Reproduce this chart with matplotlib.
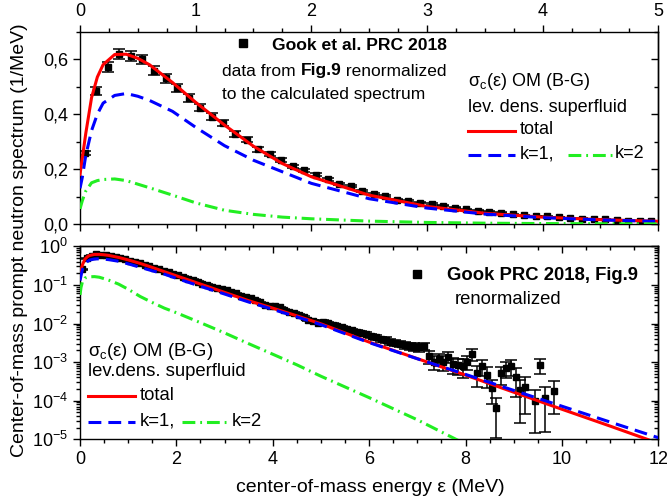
import matplotlib
matplotlib.use("Agg")
import matplotlib.pyplot as plt
import numpy as np
from matplotlib.ticker import MultipleLocator, FixedLocator, LogLocator, NullFormatter
from matplotlib.lines import Line2D

plt.rcParams['font.family'] = ['Liberation Sans', 'DejaVu Sans']
plt.rcParams['mathtext.fontset'] = 'custom'
plt.rcParams['mathtext.rm'] = 'Liberation Sans'
plt.rcParams['mathtext.it'] = 'Liberation Sans:italic'
plt.rcParams['mathtext.bf'] = 'Liberation Sans:bold'
plt.rcParams['axes.unicode_minus'] = False

# calculated spectra (1/MeV)
E_calc = [0, 0.02, 0.05, 0.1, 0.15, 0.2, 0.3, 0.4, 0.5, 0.6, 0.8, 1.0, 1.25, 1.5,
          1.75, 2.0, 2.5, 3.0, 3.5, 4.0, 4.5, 5.0, 6, 7, 8, 9, 10, 11, 12]
total = [0.18, 0.24, 0.33, 0.46, 0.535, 0.58, 0.617, 0.618, 0.603, 0.58, 0.515,
         0.443, 0.36, 0.283, 0.22, 0.172, 0.105, 0.064, 0.039, 0.025, 0.0158,
         0.0098, 0.0033, 0.00123, 4.6e-4, 1.66e-4, 6.0e-5, 2.2e-5, 7.9e-6]
k1 = [0.13, 0.17, 0.25, 0.34, 0.40, 0.44, 0.468, 0.475, 0.465, 0.45, 0.41,
      0.352, 0.285, 0.232, 0.19, 0.148, 0.092, 0.058, 0.036, 0.0232, 0.0148,
      0.0093, 0.0032, 0.00122, 4.8e-4, 1.85e-4, 7.2e-5, 2.8e-5, 1.1e-5]
k2 = [0.055, 0.085, 0.12, 0.150, 0.158, 0.162, 0.164, 0.158, 0.145, 0.132, 0.105,
      0.077, 0.050, 0.035, 0.025, 0.019, 0.0105, 0.0057, 0.0030, 0.0016, 8.5e-4,
      4.3e-4, 1.2e-4, 3.2e-5, 7.5e-6, np.nan, np.nan, np.nan, np.nan]

# Gook et al. PRC 2018, Fig.9 (renormalized)
E_gook = [0.04, 0.14, 0.24, 0.34, 0.44, 0.54, 0.64, 0.74, 0.84, 0.94,
          1.04, 1.14, 1.24, 1.34, 1.44, 1.54, 1.64, 1.74, 1.84, 1.94,
          2.04, 2.14, 2.24, 2.34, 2.44, 2.54, 2.64, 2.74, 2.84, 2.94,
          3.04, 3.14, 3.24, 3.34, 3.44, 3.54, 3.64, 3.74, 3.84, 3.94,
          4.04, 4.14, 4.24, 4.34, 4.44, 4.54, 4.64, 4.74, 4.84, 4.94,
          5.04, 5.14, 5.24, 5.34, 5.44, 5.54, 5.64, 5.74, 5.84, 5.94,
          6.04, 6.14, 6.24, 6.34, 6.44, 6.54, 6.64, 6.74, 6.84, 6.94,
          7.04, 7.14, 7.24, 7.34, 7.44, 7.54, 7.64, 7.74, 7.84, 7.94,
          8.04, 8.14, 8.24, 8.34, 8.44, 8.54, 8.64, 8.74, 8.84, 8.94,
          9.04, 9.14, 9.24, 9.34, 9.44, 9.54, 9.64, 9.74, 9.84]
S_gook = [0.258, 0.483, 0.572, 0.620, 0.612, 0.599, 0.558, 0.531, 0.495, 0.459,
          0.423, 0.391, 0.368, 0.328, 0.307, 0.272, 0.256, 0.232, 0.210, 0.196,
          0.180, 0.163, 0.145, 0.137, 0.121, 0.108, 0.101, 0.089, 0.084, 0.077,
          0.073, 0.066, 0.060, 0.053, 0.049, 0.045, 0.041, 0.035, 0.031, 0.029,
          0.028, 0.026, 0.022, 0.020, 0.019, 0.017, 0.0145, 0.0125, 0.0115, 0.0105,
          0.0112, 0.0102, 0.0093, 0.0085, 0.0079, 0.0071, 0.0066, 0.0060, 0.0056, 0.0054,
          0.0048, 0.0044, 0.0040, 0.0038, 0.0034, 0.0032, 0.0030, 0.0028, 0.0026, 0.0025,
          0.0024, 0.0026, 0.0014, 0.00102, 0.0012, 0.0010, 0.00138, 0.00089, 0.00085, 0.00079,
          0.00102, 0.00166, 0.00051, 0.00079, 0.00047, 0.00021, 6.3e-5, 0.00051, 0.00069, 0.00079,
          0.00042, 0.00019, 0.00023, np.nan, 1.0e-4, 0.00085, 0.00012, np.nan, 0.00018]
dS_rel = [0.03] * 40 + [0.05] * 10 + \
         [0.08, 0.08, 0.09, 0.09, 0.10, 0.10, 0.11, 0.11, 0.12, 0.12,
          0.13, 0.14, 0.15, 0.16, 0.17, 0.18, 0.19, 0.20, 0.21, 0.22,
          0.22, 0.20, 0.35, 0.40, 0.35, 0.40, 0.30, 0.45, 0.45, 0.50,
          0.40, 0.35, 0.55, 0.45, 0.55, 0.60, 0.83, 0.50, 0.45, 0.45,
          0.70, 0.86, 0.80, 0.0, 0.85, 0.43, 0.87, 0.0, 0.75]

E_gook = np.array(E_gook)
S_gook = np.array(S_gook)
dS = S_gook * np.array(dS_rel)

W, H = 667, 500
fig = plt.figure(figsize=(W / 100, H / 100), dpi=100)


def fx(x):
    return x / W


def fy(y):
    return 1 - y / H


ax1 = fig.add_axes([fx(80), fy(224), fx(658.3) - fx(80), fy(31.7) - fy(224)])
ax2 = fig.add_axes([fx(80), fy(439.3), fx(658.3) - fx(80), fy(246.3) - fy(439.3)])

red = '#ff0000'
blue = '#0000ff'
green = '#22ee22'
lw = 2.2
blue_dash = (4.2, 2.3)
green_dash = (4.2, 1.6, 0.6, 1.6)

def draw_panel(ax, mask):
    ax.errorbar(E_gook[mask], S_gook[mask], yerr=dS[mask], fmt='s', color='black',
                ms=5, elinewidth=1.1, capsize=4.5, capthick=1.1, zorder=2)
    ax.plot(E_calc, total, color=red, lw=lw, zorder=3)
    ax.plot(E_calc, k1, color=blue, lw=lw, dashes=blue_dash, zorder=4)
    ax.plot(E_calc, k2, color=green, lw=lw, dashes=green_dash, zorder=4)


draw_panel(ax1, E_gook <= 5)
draw_panel(ax2, np.ones(len(E_gook), dtype=bool))

tick_kw = dict(labelsize=13, width=1, length=5)
minor_kw = dict(width=1, length=3)

# top panel
ax1.set_xlim(0, 5)
ax1.set_ylim(0, 0.7)
ax1.xaxis.set_major_locator(MultipleLocator(1))
ax1.xaxis.set_minor_locator(MultipleLocator(0.25))
ax1.yaxis.set_major_locator(FixedLocator([0, 0.2, 0.4, 0.6]))
ax1.set_yticklabels(['0,0', '0,2', '0,4', '0,6'])
ax1.yaxis.set_minor_locator(MultipleLocator(0.1))
ax1.tick_params(axis='x', which='both', top=True, bottom=True, labeltop=True,
                labelbottom=False, direction='out')
ax1.tick_params(axis='y', which='both', left=True, right=False, direction='out')
ax1.tick_params(which='major', **tick_kw)
ax1.tick_params(which='minor', **minor_kw)
r1 = ax1.secondary_yaxis('right')
r1.yaxis.set_major_locator(MultipleLocator(0.2))
r1.yaxis.set_minor_locator(MultipleLocator(0.1))
r1.yaxis.set_major_formatter(NullFormatter())
r1.tick_params(which='both', direction='in')
r1.tick_params(which='major', width=1, length=5)
r1.tick_params(which='minor', **minor_kw)

# bottom panel
ax2.set_yscale('log')
ax2.set_xlim(0, 12)
ax2.set_ylim(1e-5, 1)
ax2.xaxis.set_major_locator(MultipleLocator(2))
ax2.xaxis.set_minor_locator(MultipleLocator(0.5))
ax2.yaxis.set_major_locator(LogLocator(base=10, numticks=10))
ax2.yaxis.set_minor_locator(LogLocator(base=10, subs=np.arange(2, 10), numticks=10))
ax2.yaxis.set_minor_formatter(NullFormatter())
ax2.tick_params(axis='x', which='both', top=False, bottom=True, direction='out')
ax2.tick_params(axis='y', which='both', left=True, right=False, direction='out')
ax2.tick_params(which='major', **tick_kw)
ax2.tick_params(which='minor', **minor_kw)
t2 = ax2.secondary_xaxis('top')
t2.xaxis.set_major_locator(MultipleLocator(2))
t2.xaxis.set_minor_locator(MultipleLocator(0.5))
t2.xaxis.set_major_formatter(NullFormatter())
t2.tick_params(which='both', direction='in')
t2.tick_params(which='major', width=1, length=5)
t2.tick_params(which='minor', **minor_kw)
r2 = ax2.secondary_yaxis('right')
r2.yaxis.set_major_locator(LogLocator(base=10, numticks=10))
r2.yaxis.set_minor_locator(LogLocator(base=10, subs=np.arange(2, 10), numticks=10))
r2.yaxis.set_major_formatter(NullFormatter())
r2.yaxis.set_minor_formatter(NullFormatter())
r2.tick_params(which='both', direction='in')
r2.tick_params(which='major', width=1, length=5)
r2.tick_params(which='minor', **minor_kw)

for ax in (ax1, ax2, r1, r2, t2):
    for s in ax.spines.values():
        s.set_linewidth(1.0)

# axis labels
fig.text(fx(370), fy(487), 'center-of-mass energy \u03b5 (MeV)', ha='center', va='center',
         fontsize=14)
fig.text(fx(20), fy(240), 'Center-of-mass prompt neutron spectrum (1/MeV)', ha='center',
         va='center', rotation=90, fontsize=14)


def sample(x0, x1, y, **kw):
    fig.add_artist(Line2D([fx(x0), fx(x1)], [fy(y), fy(y)], transform=fig.transFigure,
                          lw=lw, **kw))


def label(x, y, s, size=13, **kw):
    return fig.text(fx(x), fy(y), s, ha='left', va='center', fontsize=size, **kw)


# top panel annotations
fig.add_artist(Line2D([fx(243)], [fy(43)], transform=fig.transFigure, marker='s',
                      color='black', ms=5.5, ls='none'))
label(272, 46, 'Gook et al. PRC 2018', 12.6, fontweight='bold')
t_a = label(222, 71, 'data from ', 12.5)
t_b = fig.text(0, 0, 'Fig.9', fontsize=12.5, fontweight='bold', ha='left', va='bottom')
t_b.set_transform(matplotlib.transforms.offset_copy(fig.transFigure, fig=fig))
fig.canvas.draw()
bb = t_a.get_window_extent()
t_b.set_position((bb.x1 / fig.bbox.width, bb.y0 / fig.bbox.height))
fig.canvas.draw()
bb2 = t_b.get_window_extent()
fig.text(bb2.x1 / fig.bbox.width, bb.y0 / fig.bbox.height, ' renormalized', fontsize=12.5,
         ha='left', va='bottom')
label(222, 95, 'to the calculated spectrum', 12.5)
label(468, 82, '\u03c3$_{\\rm c}$(\u03b5) OM (B-G)', 13)
label(468, 107, 'lev. dens. superfluid', 13)
sample(468, 515, 131, color=red)
label(520, 130, 'total', 13)
sample(468, 515, 155, color=blue, dashes=blue_dash)
label(520, 154, 'k=1,', 13)
sample(568, 612, 155, color=green, dashes=green_dash)
label(615, 154, 'k=2', 13)

# bottom panel annotations
fig.add_artist(Line2D([fx(417)], [fy(274)], transform=fig.transFigure, marker='s',
                      color='black', ms=5.5, ls='none'))
label(447, 275, 'Gook PRC 2018, Fig.9', 13.3, fontweight='bold')
label(455, 300, 'renormalized', 13.3)
label(88, 351, '\u03c3$_{\\rm c}$(\u03b5) OM (B-G)', 13.3)
label(88, 372, 'lev.dens. superfluid', 13.3)
sample(88, 135, 396, color=red)
label(140, 395, 'total', 13.3)
sample(88, 135, 422, color=blue, dashes=blue_dash)
label(140, 421, 'k=1,', 13.3)
sample(182, 228, 422, color=green, dashes=green_dash)
label(232, 421, 'k=2', 13.3)

fig.savefig('out.png', dpi=100)
